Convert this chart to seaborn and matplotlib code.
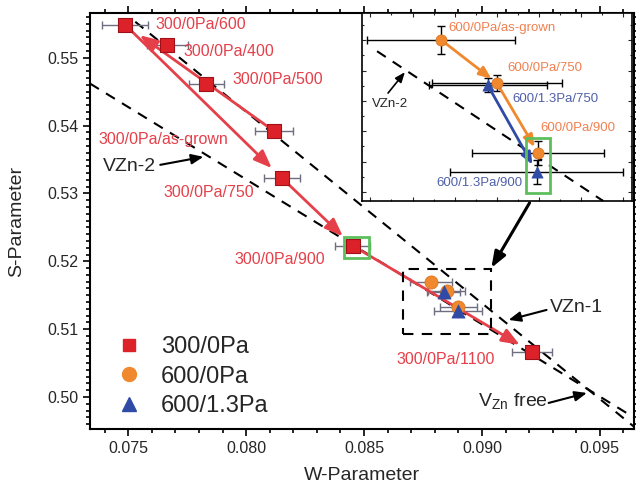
import numpy as np
import seaborn as sns
import matplotlib.pyplot as plt
from matplotlib.lines import Line2D
from matplotlib.patches import Rectangle
from matplotlib.ticker import MultipleLocator

# 300/0Pa series (main plot)
red_labels = ["300/0Pa/as-grown", "300/0Pa/400", "300/0Pa/500", "300/0Pa/600",
              "300/0Pa/750", "300/0Pa/900", "300/0Pa/1100"]
red_w = [0.08117, 0.07666, 0.07832, 0.07487, 0.08151, 0.08453, 0.09211]
red_s = [0.53923, 0.55192, 0.54617, 0.55487, 0.53230, 0.52227, 0.50664]
red_werr = [0.00080, 0.00087, 0.00074, 0.00096, 0.00076, 0.00074, 0.00085]
red_serr = [0.0002, 0.0002, 0.0002, 0.0002, 0.0002, 0.0002, 0.0002]

# 600/0Pa and 600/1.3Pa series
org_labels = ["600/0Pa/as-grown", "600/0Pa/750", "600/0Pa/900"]
org_w = [0.08784, 0.08850, 0.08899]
org_s = [0.51701, 0.51559, 0.51328]
org_werr = [0.00088, 0.00077, 0.00078]
org_serr = [0.00045, 0.00026, 0.00040]

blu_labels = ["600/1.3Pa/750", "600/1.3Pa/900"]
blu_w = [0.08839, 0.08897]
blu_s = [0.51553, 0.51266]
blu_werr = [0.00070, 0.00102]
blu_serr = [0.00023, 0.00040]

# dashed V_Zn reference lines (end points W, S)
vzn1_w = [0.07530, 0.09650]
vzn1_s = [0.55531, 0.49547]
vzn2_w = [0.07338, 0.09650]
vzn2_s = [0.54620, 0.49686]
inset_line_w = [0.08708, 0.08976]
inset_line_s = [0.51664, 0.51170]

RED, RED_TXT = "#dc2228", "#e5404a"
ORG, ORG_TXT = "#f0882e", "#f08050"
BLU, BLU_TXT = "#2f4ba5", "#5060a8"
GRN = "#5cbf5c"
ERR = "#6e6e80"

sns.set_theme(style="ticks")
plt.rcParams["font.family"] = ["Liberation Sans", "DejaVu Sans"]
plt.rcParams["mathtext.fontset"] = "custom"
plt.rcParams["mathtext.rm"] = "Liberation Sans"

fig = plt.figure(figsize=(6.36, 4.91), dpi=100)
ax = fig.add_axes([0.1415, 0.1263, 0.8554, 0.8472])

ax.plot(vzn1_w, vzn1_s, ls=(0, (5, 4)), color="black", lw=1.5, zorder=1)
ax.plot(vzn2_w, vzn2_s, ls=(0, (5, 4)), color="black", lw=1.5, zorder=1)

ax.errorbar(red_w, red_s, xerr=red_werr, yerr=red_serr, fmt="none", ecolor=ERR,
            elinewidth=1, capsize=3, zorder=2)
ax.errorbar(org_w, org_s, xerr=org_werr, yerr=org_serr, fmt="none", ecolor=ERR,
            elinewidth=1, capsize=3, zorder=2)
ax.errorbar(blu_w, blu_s, xerr=blu_werr, yerr=blu_serr, fmt="none", ecolor=ERR,
            elinewidth=1, capsize=3, zorder=2)

# red arrows: as-grown -> 600, then 600 -> 750 -> 900 -> 1100
arrow_kw = dict(arrowstyle="-|>,head_length=0.9,head_width=0.35", color=RED_TXT, lw=2)
ax.annotate("", xy=(red_w[3], red_s[3]), xytext=(red_w[0], red_s[0]),
            arrowprops=dict(**arrow_kw, shrinkA=0, shrinkB=13), zorder=3)
for a, b in [(3, 4), (4, 5), (5, 6)]:
    ax.annotate("", xy=(red_w[b], red_s[b]), xytext=(red_w[a], red_s[a]),
                arrowprops=dict(**arrow_kw, shrinkA=0, shrinkB=10), zorder=3)

sns.scatterplot(x=red_w, y=red_s, marker="s", s=90, color=RED, edgecolor="#a01018",
                linewidth=0.8, ax=ax, zorder=4)
sns.scatterplot(x=org_w, y=org_s, marker="o", s=90, color=ORG, edgecolor="#d07020",
                linewidth=0.5, ax=ax, zorder=4)
sns.scatterplot(x=blu_w, y=blu_s, marker="^", s=90, color=BLU, edgecolor=BLU,
                linewidth=0.5, ax=ax, zorder=5)

red_pos = [(0.07372, 0.53791), (0.07734, 0.55088), (0.07943, 0.54676), (0.07615, 0.55487),
           (0.07649, 0.53009), (0.07951, 0.52021), (0.08636, 0.50546)]
for lab, (x, y) in zip(red_labels, red_pos):
    ax.text(x, y, lab, color=RED_TXT, fontsize=11.5, ha="left", va="center", zorder=6)

ax.add_patch(Rectangle((0.08415, 0.5205), 0.00106, 0.0031, fill=False, ec=GRN, lw=2, zorder=5))
ax.add_patch(Rectangle((0.08666, 0.5093), 0.00374, 0.0096, fill=False, ec="black",
                       lw=1.5, ls=(0, (5, 4)), zorder=3))

black_arrow = dict(arrowstyle="-|>,head_length=0.6,head_width=0.25", color="black", lw=1.5,
                   shrinkA=0, shrinkB=0)
ax.annotate("", xy=(0.07819, 0.53540), xytext=(0.07636, 0.53422), arrowprops=black_arrow)
ax.text(0.07394, 0.53392, "VZn-2", fontsize=14, ha="left", va="center")
ax.annotate("", xy=(0.09113, 0.51136), xytext=(0.09274, 0.51283), arrowprops=black_arrow)
ax.text(0.09287, 0.51313, "VZn-1", fontsize=14, ha="left", va="center")
ax.annotate("", xy=(0.09445, 0.50059), xytext=(0.09283, 0.49912), arrowprops=black_arrow)
ax.text(0.08985, 0.49926, r"V$_{\mathrm{Zn}}$ free", fontsize=14, ha="left", va="center")
ax.annotate("", xy=(0.0904, 0.51903), xytext=(0.09202, 0.52861),
            arrowprops=dict(arrowstyle="-|>,head_length=0.8,head_width=0.3", color="black",
                            lw=2.2, shrinkA=0, shrinkB=0))

ax.set_xlim(0.07338, 0.09645)
ax.set_ylim(0.49528, 0.5566)
ax.xaxis.set_major_locator(MultipleLocator(0.005))
ax.xaxis.set_minor_locator(MultipleLocator(0.001))
ax.yaxis.set_major_locator(MultipleLocator(0.01))
ax.yaxis.set_minor_locator(MultipleLocator(0.001))
ax.xaxis.set_major_formatter(plt.FormatStrFormatter("%.3f"))
ax.yaxis.set_major_formatter(plt.FormatStrFormatter("%.2f"))
ax.tick_params(which="both", direction="out", top=True, right=True, labelsize=11.5,
               width=1.2, color="black")
ax.tick_params(which="major", length=5)
ax.tick_params(which="minor", length=3)
for sp in ax.spines.values():
    sp.set_linewidth(1.5)
    sp.set_color("black")
ax.set_xlabel("W-Parameter", fontsize=14, labelpad=8)
ax.set_ylabel("S-Parameter", fontsize=14, labelpad=16)

handles = [Line2D([], [], marker="s", ls="none", color=RED, markersize=9),
           Line2D([], [], marker="o", ls="none", color=ORG, markersize=10),
           Line2D([], [], marker="^", ls="none", color=BLU, markersize=10)]
ax.legend(handles, ["300/0Pa", "600/0Pa", "600/1.3Pa"], loc="upper left",
          bbox_to_anchor=(0.0, 0.274), frameon=False, fontsize=17, handletextpad=0.6,
          labelspacing=0.31, handlelength=1.5)

# inset
ins = fig.add_axes([0.569, 0.5906, 0.4245, 0.3829])
ins.plot(inset_line_w, inset_line_s, ls=(0, (5, 4)), color="black", lw=1.5, zorder=1)
ins.errorbar(org_w, org_s, xerr=org_werr, yerr=org_serr, fmt="none", ecolor="black",
             elinewidth=1, capsize=3, zorder=2)
ins.errorbar(blu_w, blu_s, xerr=blu_werr, yerr=blu_serr, fmt="none", ecolor="black",
             elinewidth=1, capsize=3, zorder=2)
for a, b in [(0, 1), (1, 2)]:
    ins.annotate("", xy=(org_w[b], org_s[b]), xytext=(org_w[a], org_s[a]),
                 arrowprops=dict(arrowstyle="-|>,head_length=0.6,head_width=0.25",
                                 color=ORG, lw=2, shrinkA=0, shrinkB=5), zorder=3)
ins.annotate("", xy=(blu_w[1], blu_s[1]), xytext=(blu_w[0], blu_s[0]),
             arrowprops=dict(arrowstyle="-|>,head_length=0.6,head_width=0.25",
                             color=BLU, lw=2, shrinkA=0, shrinkB=6), zorder=3)
sns.scatterplot(x=org_w, y=org_s, marker="o", s=65, color=ORG, edgecolor="#d07020",
                linewidth=0.5, ax=ins, zorder=4)
sns.scatterplot(x=blu_w, y=blu_s, marker="^", s=65, color=BLU, edgecolor=BLU,
                linewidth=0.5, ax=ins, zorder=4)
ins.add_patch(Rectangle((0.08884, 0.51196), 0.00029, 0.00182, fill=False, ec=GRN, lw=2, zorder=5))

org_pos = [(0.08793, 0.51741), (0.08862, 0.51609), (0.08901, 0.51411)]
for lab, (x, y) in zip(org_labels, org_pos):
    ins.text(x, y, lab, color=ORG_TXT, fontsize=9.5, ha="left", va="center")
blu_pos = [(0.08868, 0.51506), (0.08778, 0.51229)]
for lab, (x, y) in zip(blu_labels, blu_pos):
    ins.text(x, y, lab, color=BLU_TXT, fontsize=9.5, ha="left", va="center")

ins.annotate("", xy=(0.08741, 0.51595), xytext=(0.08721, 0.51526),
             arrowprops=dict(arrowstyle="-|>,head_length=0.5,head_width=0.2", color="black",
                             lw=1.2, shrinkA=0, shrinkB=0))
ins.text(0.08723, 0.51490, "VZn-2", fontsize=9.5, ha="center", va="center")

ins.set_xlim(0.0869, 0.0901)
ins.set_ylim(0.5117, 0.5179)
ins.xaxis.set_major_locator(MultipleLocator(0.0005))
ins.xaxis.set_minor_locator(MultipleLocator(0.00025))
ins.yaxis.set_major_locator(MultipleLocator(0.001))
ins.yaxis.set_minor_locator(MultipleLocator(0.0005))
ins.tick_params(which="both", direction="in", top=True, right=True, labelbottom=False,
                labelleft=False, width=0.8)
ins.tick_params(which="major", length=3)
ins.tick_params(which="minor", length=1.5)
for sp in ins.spines.values():
    sp.set_linewidth(1.2)
    sp.set_color("black")
ins.set_xlabel("")
ins.set_ylabel("")

fig.savefig("out.png", dpi=100)
